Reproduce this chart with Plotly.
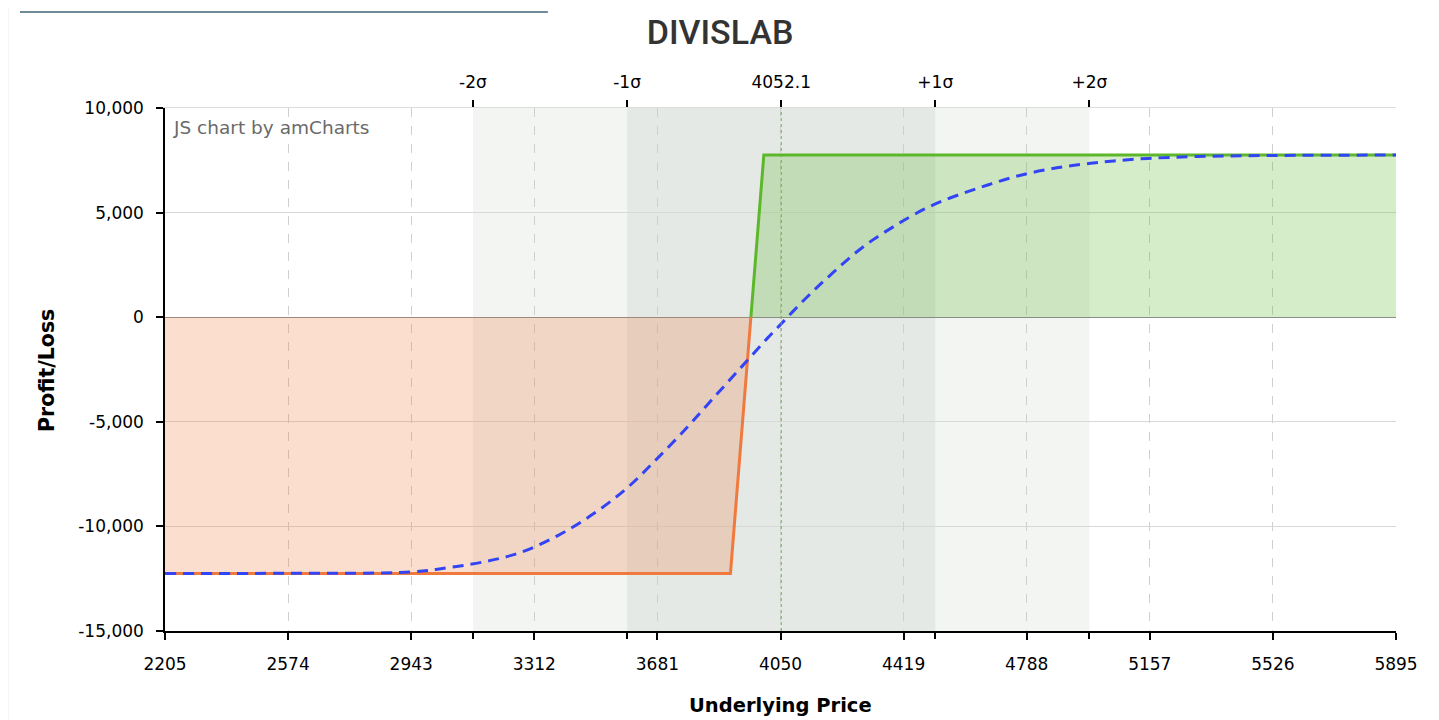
import plotly.graph_objects as go

# ---- data ----
title_text = "DIVISLAB"
x_min, x_max = 2205, 5895
x_ticks = [2205, 2574, 2943, 3312, 3681, 4050, 4419, 4788, 5157, 5526, 5895]
y_ticks = [-15000, -10000, -5000, 0, 5000, 10000]
spot = 4052.1
sigma_vals = [3128, 3590, 4052.1, 4514, 4976]
sigma_labels = ["-2σ", "-1σ", "4052.1", "+1σ", "+2σ"]

# expiry payoff (loss part and profit part)
loss_x = [2205, 3900, 3961.25]
loss_y = [-12250, -12250, 0]
profit_x = [3961.25, 4000, 5895]
profit_y = [0, 7750, 7750]

# dashed blue (today's) P/L curve
curve_x = [2205, 2574, 2943, 3051, 3159, 3270, 3381, 3489, 3591, 3681, 3771, 3831,
           3891, 3951, 4011, 4059, 4110, 4161, 4209, 4269, 4329, 4389, 4419, 4479,
           4539, 4611, 4671, 4731, 4791, 4851, 4911, 4980, 5049, 5151, 5300, 5529, 5895]
curve_y = [-12250, -12240, -12180, -11980, -11700, -11250, -10450, -9400, -8150, -6750,
           -5250, -4180, -3120, -2060, -1000, -200, 650, 1450, 2150, 3000, 3720, 4330,
           4620, 5150, 5580, 6000, 6320, 6620, 6870, 7060, 7220, 7360, 7470, 7590, 7680,
           7730, 7750]

FONT = "DejaVu Sans"
fig = go.Figure()

fig.add_trace(go.Scatter(x=loss_x, y=loss_y, mode="lines", fill="tozeroy",
                         fillcolor="rgba(240,122,61,0.25)",
                         line=dict(color="#f07a3d", width=3), hoverinfo="skip",
                         showlegend=False))
fig.add_trace(go.Scatter(x=profit_x, y=profit_y, mode="lines", fill="tozeroy",
                         fillcolor="rgba(92,183,42,0.25)",
                         line=dict(color="#5cb72a", width=3), hoverinfo="skip",
                         showlegend=False))
fig.add_trace(go.Scatter(x=curve_x, y=curve_y, mode="lines",
                         line=dict(color="#3344f5", width=3, dash="11px,7px", shape="spline"),
                         hoverinfo="skip", showlegend=False))
# invisible traces to activate extra x axes
fig.add_trace(go.Scatter(x=[x_min, x_max], y=[0, 0], xaxis="x2", mode="lines",
                         line=dict(width=0), showlegend=False, hoverinfo="skip"))
fig.add_trace(go.Scatter(x=[x_min, x_max], y=[0, 0], xaxis="x3", mode="lines",
                         line=dict(width=0), showlegend=False, hoverinfo="skip"))

shapes = [
    dict(type="rect", xref="x", yref="paper", x0=sigma_vals[0], x1=sigma_vals[4],
         y0=0, y1=1, fillcolor="#f3f5f3", line=dict(width=0), layer="below"),
    dict(type="rect", xref="x", yref="paper", x0=sigma_vals[1], x1=sigma_vals[3],
         y0=0, y1=1, fillcolor="#e5e9e6", line=dict(width=0), layer="below"),
    dict(type="line", xref="x", yref="paper", x0=spot, x1=spot, y0=0, y1=1,
         line=dict(color="#6aaa4a", width=1, dash="3px,3px")),
    dict(type="line", xref="paper", yref="paper", x0=-0.1178, x1=0.311, y0=1.1836, y1=1.1836,
         line=dict(color="#3f6273", width=1.5)),
    dict(type="line", xref="paper", yref="paper", x0=-0.1275, x1=-0.1275, y0=-0.2, y1=1.2,
         line=dict(color="#efefef", width=1)),
    dict(type="line", xref="paper", yref="paper", x0=1.030, x1=1.030, y0=-0.2, y1=1.2,
         line=dict(color="#efefef", width=1)),
]

annotations = [
    dict(text="JS chart by amCharts", xref="paper", yref="paper", x=0.005, y=0.987,
         xanchor="left", yanchor="top", showarrow=False,
         font=dict(family=FONT, size=18.5, color="#6a6a6a")),
    dict(text="<b>Underlying Price</b>", xref="paper", yref="paper", x=0.4996, y=-0.1415,
         xanchor="center", yanchor="middle", showarrow=False,
         font=dict(family=FONT, size=19.5, color="#000")),
    dict(text="<b>Profit/Loss</b>", xref="paper", yref="paper", x=-0.0959, y=0.499,
         xanchor="center", yanchor="middle", showarrow=False, textangle=-90,
         font=dict(family=FONT, size=20.5, color="#000")),
]

fig.update_layout(
    width=1423, height=712,
    margin=dict(l=157, r=35, t=100, b=89),
    paper_bgcolor="white", plot_bgcolor="white",
    title=dict(text=title_text, x=0.5004, y=1 - 24 / 712, xanchor="center", yanchor="middle",
               font=dict(family="Roboto", size=34, color="#333", weight=500)),
    shapes=shapes, annotations=annotations,
    xaxis=dict(range=[x_min, x_max], tickvals=x_ticks, ticktext=[str(v) for v in x_ticks],
               showgrid=True, gridcolor="#cfcfcf", griddash="dash", gridwidth=1,
               showline=True, linecolor="#000", linewidth=1.5,
               ticks="outside", ticklen=7, tickcolor="#000", tickwidth=1.5,
               ticklabelstandoff=10,
               tickfont=dict(family=FONT, size=17, color="#000"),
               zeroline=False, fixedrange=True),
    xaxis2=dict(range=[x_min, x_max], overlaying="x", side="top", anchor="y",
                tickvals=sigma_vals, ticktext=sigma_labels, showgrid=False,
                showline=True, linecolor="#dcdcdc", linewidth=1,
                ticks="outside", ticklen=7, tickcolor="#000", tickwidth=1.5,
                ticklabelstandoff=5,
                tickfont=dict(family=FONT, size=17, color="#000"), zeroline=False),
    xaxis3=dict(range=[x_min, x_max], overlaying="x", side="bottom", anchor="y",
                tickvals=[sigma_vals[0], sigma_vals[1], sigma_vals[3], sigma_vals[4]],
                showticklabels=False, showgrid=False, showline=False,
                ticks="outside", ticklen=7, tickcolor="#000", tickwidth=1.5, zeroline=False),
    yaxis=dict(range=[-15000, 10000], tickvals=y_ticks,
               ticktext=[f"{v:,}" for v in y_ticks],
               showgrid=True, gridcolor="#d8d8d8", gridwidth=1,
               zeroline=True, zerolinecolor="#8c8c8c", zerolinewidth=1,
               showline=True, linecolor="#000", linewidth=1.5,
               ticks="outside", ticklen=7, tickcolor="#000", tickwidth=1.5,
               ticklabelstandoff=9,
               tickfont=dict(family=FONT, size=17, color="#000"), fixedrange=True),
)

fig.write_html("out.html")
